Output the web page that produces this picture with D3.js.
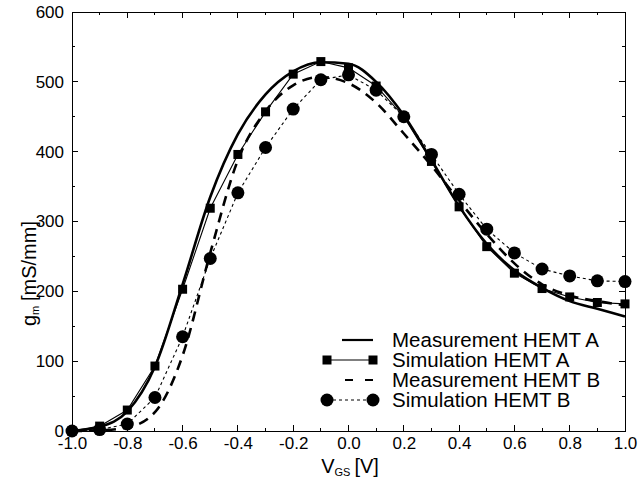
<!DOCTYPE html>
<meta charset="utf-8">
<script src="https://cdn.jsdelivr.net/npm/d3@7"></script>
<style>
body { margin: 0; background: #fff; }
svg text { font-family: "Liberation Sans", Arial, sans-serif; fill: #000; }
.axis line { stroke: #000; stroke-width: 1px; shape-rendering: crispEdges; }
</style>
<body>
<div id="chart"></div>
</body>
<script>
// gate voltage points, step 0.1 V
var vgs = [-1.0, -0.9, -0.8, -0.7, -0.6, -0.5, -0.4, -0.3, -0.2, -0.1, 0.0,
           0.1, 0.2, 0.3, 0.4, 0.5, 0.6, 0.7, 0.8, 0.9, 1.0];

var measA = [0, 6, 28, 92, 210, 335, 425, 482, 515, 528, 526,
             500, 452, 388, 322, 268, 230, 205, 186, 175, 164];
var simA  = [0, 7, 30, 93, 203, 319, 396, 457, 511, 529, 520,
             494, 450, 386, 321, 264, 226, 204, 192, 184, 182];
var measB = [0, 1, 5, 27, 108, 255, 388, 458, 495, 507, 498,
             470, 426, 380, 330, 282, 240, 210, 194, 186, 180];
var simB  = [0, 2, 10, 48, 135, 247, 341, 406, 461, 503, 510,
             488, 450, 396, 339, 289, 255, 232, 222, 215, 214];

var xTicks = [-1.0, -0.8, -0.6, -0.4, -0.2, 0.0, 0.2, 0.4, 0.6, 0.8, 1.0];
var yTicks = [0, 100, 200, 300, 400, 500, 600];
var legendNames = ["Measurement HEMT A", "Simulation HEMT A", "Measurement HEMT B", "Simulation HEMT B"];

var W = 639, H = 480;
var pl = 72, pr = 625, pt = 12, pb = 431;

var svg = d3.select("#chart").append("svg")
    .attr("width", W)
    .attr("height", H);

var x = d3.scaleLinear().domain([-1, 1]).range([pl, pr]);
var y = d3.scaleLinear().domain([0, 600]).range([pb, pt]);

var minorX = d3.range(0, 21).map(function(i) { return -1 + i * 0.1; });
var minorY = d3.range(0, 13).map(function(i) { return i * 50; });

// frame
svg.append("rect")
    .attr("x", pl).attr("y", pt)
    .attr("width", pr - pl).attr("height", pb - pt)
    .attr("fill", "none").attr("stroke", "#000").attr("stroke-width", 1)
    .attr("shape-rendering", "crispEdges");

// inward ticks on all four sides
var tk = svg.append("g").attr("class", "axis");
minorX.forEach(function(v, i) {
  var len = (i % 2 === 0) ? 6 : 3;
  tk.append("line").attr("x1", x(v)).attr("x2", x(v)).attr("y1", pb).attr("y2", pb - len);
  tk.append("line").attr("x1", x(v)).attr("x2", x(v)).attr("y1", pt).attr("y2", pt + len);
});
minorY.forEach(function(v, i) {
  var len = (i % 2 === 0) ? 6 : 3;
  tk.append("line").attr("x1", pl).attr("x2", pl + len).attr("y1", y(v)).attr("y2", y(v));
  tk.append("line").attr("x1", pr).attr("x2", pr - len).attr("y1", y(v)).attr("y2", y(v));
});

// tick labels via d3 axes (tick lines drawn above)
var xAxis = svg.append("g")
    .attr("transform", "translate(0," + pb + ")")
    .call(d3.axisBottom(x).tickValues(xTicks).tickSize(0).tickPadding(6)
      .tickFormat(function(d) { return d3.format(".1f")(d).replace("\u2212", "-"); }));
var yAxis = svg.append("g")
    .attr("transform", "translate(" + pl + ",0)")
    .call(d3.axisLeft(y).tickValues(yTicks).tickSize(0).tickPadding(8));
[xAxis, yAxis].forEach(function(a) {
  a.select(".domain").remove();
  a.selectAll("text").style("font-size", "17px").style("font-family", "Liberation Sans, Arial, sans-serif");
});

// axis titles
var xt = svg.append("text")
    .attr("x", 350).attr("y", 473)
    .attr("text-anchor", "middle")
    .style("font-size", "20px");
xt.append("tspan").text("V");
xt.append("tspan").attr("dy", 3).style("font-size", "11px").text("GS");
xt.append("tspan").attr("dy", -3).attr("dx", 4).text("[V]");

// rotated y title, pieces placed along the baseline
var yt = svg.append("g").attr("transform", "translate(36,268) rotate(-90)");
yt.append("text").attr("x", -58).attr("y", 0).style("font-size", "20px").text("g");
yt.append("text").attr("x", -47).attr("y", 3).style("font-size", "11px").text("m");
yt.append("text").attr("x", -33).attr("y", 0).style("font-size", "20px").text("[mS/mm]");

function pts(vals) { return vals.map(function(v, i) { return [vgs[i], v]; }); }

var smooth = d3.line().x(function(d) { return x(d[0]); }).y(function(d) { return y(d[1]); }).curve(d3.curveMonotoneX);
var straight = d3.line().x(function(d) { return x(d[0]); }).y(function(d) { return y(d[1]); });

var plot = svg.append("g");

plot.append("path").datum(pts(simB)).attr("d", straight)
    .attr("fill", "none").attr("stroke", "#000").attr("stroke-width", 1.1).attr("stroke-dasharray", "3,3");
plot.append("path").datum(pts(simA)).attr("d", straight)
    .attr("fill", "none").attr("stroke", "#000").attr("stroke-width", 1.1);
plot.append("path").datum(pts(measB)).attr("d", smooth)
    .attr("fill", "none").attr("stroke", "#000").attr("stroke-width", 2.6).attr("stroke-dasharray", "10,7");
plot.append("path").datum(pts(measA)).attr("d", smooth)
    .attr("fill", "none").attr("stroke", "#000").attr("stroke-width", 2.6);

plot.selectAll(".sq").data(pts(simA)).enter().append("rect")
    .attr("x", function(d) { return x(d[0]) - 4.5; })
    .attr("y", function(d) { return y(d[1]) - 4.5; })
    .attr("width", 9).attr("height", 9).attr("fill", "#000");
plot.selectAll(".ci").data(pts(simB)).enter().append("circle")
    .attr("cx", function(d) { return x(d[0]); })
    .attr("cy", function(d) { return y(d[1]); })
    .attr("r", 6.5).attr("fill", "#000");

// legend
var lg = svg.append("g");
var rows = [340, 360, 380, 400];
legendNames.forEach(function(name, i) {
  lg.append("text").attr("x", 392).attr("y", rows[i] + 7).style("font-size", "20.5px").text(name);
});
lg.append("line").attr("x1", 342).attr("x2", 373).attr("y1", rows[0]).attr("y2", rows[0])
    .attr("stroke", "#000").attr("stroke-width", 2.2);
lg.append("line").attr("x1", 327).attr("x2", 373).attr("y1", rows[1]).attr("y2", rows[1])
    .attr("stroke", "#000").attr("stroke-width", 1.1);
[327, 373].forEach(function(cx) {
  lg.append("rect").attr("x", cx - 4.5).attr("y", rows[1] - 4.5).attr("width", 9).attr("height", 9).attr("fill", "#000");
});
lg.append("line").attr("x1", 345).attr("x2", 374).attr("y1", rows[2]).attr("y2", rows[2])
    .attr("stroke", "#000").attr("stroke-width", 2.2).attr("stroke-dasharray", "8,12");
lg.append("line").attr("x1", 327).attr("x2", 373).attr("y1", rows[3]).attr("y2", rows[3])
    .attr("stroke", "#000").attr("stroke-width", 1.1).attr("stroke-dasharray", "3,3");
[327, 373].forEach(function(cx) {
  lg.append("circle").attr("cx", cx).attr("cy", rows[3]).attr("r", 6.5).attr("fill", "#000");
});
</script>
